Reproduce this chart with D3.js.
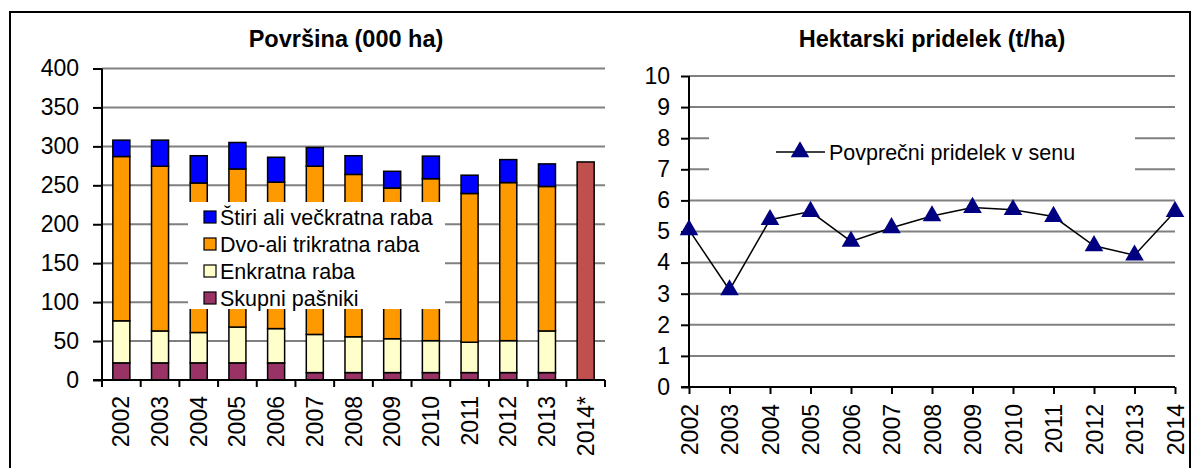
<!DOCTYPE html>
<html>
<meta charset="utf-8">
<style>
body{
	margin:0;
	background:#fff;
}
text{
	font-family:"Liberation Sans", Arial, sans-serif;
	fill:#000;
}
.title{
	font-size:23.5px;
	font-weight:bold;
	text-anchor:middle;
}
.tick text{
	font-size:23px;
}
.grid line{
	stroke:#808080;
	stroke-width:2px;
}
.legend text{
	font-size:21.5px;
}
</style>
<body>
<svg width="1197" height="468"></svg>
<script src="https://d3js.org/d3.v7.min.js"></script>
<script>

// ---- data ----
var years = ["2002","2003","2004","2005","2006","2007","2008","2009","2010","2011","2012","2013","2014*"];
var seriesNames = ["Skupni pašniki", "Enkratna raba", "Dvo-ali trikratna raba", "Štiri ali večkratna raba"];
var skupni   = [22, 22, 22, 22, 22, 9.5, 9.5, 9.5, 9.5, 9.5, 9.5, 9.5, 0];
var enkratna = [54, 41, 39, 46, 44, 49, 46, 43.5, 41, 39, 41, 53.5, 0];
var dvoali   = [211, 211.5, 192, 203, 188, 216, 208.5, 193.5, 208, 191, 203, 185.5, 0];
var stiri    = [21, 33.5, 35, 34, 32, 24, 24, 21.5, 29, 23.5, 29.5, 29, 0];
var ocena    = [0, 0, 0, 0, 0, 0, 0, 0, 0, 0, 0, 0, 280];
var areaTicks = [0, 50, 100, 150, 200, 250, 300, 350, 400];

var yieldYears = ["2002","2003","2004","2005","2006","2007","2008","2009","2010","2011","2012","2013","2014"];
var yieldValues = [5.05, 3.12, 5.38, 5.64, 4.68, 5.12, 5.5, 5.77, 5.7, 5.48, 4.54, 4.24, 5.64];
var yieldTicks = [0, 1, 2, 3, 4, 5, 6, 7, 8, 9, 10];

var colors = ["#993366", "#FFFFCC", "#FF9900", "#0000FF"];
var colorOcena = "#C0504D";

var svg = d3.select("svg");

// outer frame
svg.append("rect")
    .attr("x", 10).attr("y", 12)
    .attr("width", 1180).attr("height", 470)
    .attr("fill", "none")
    .attr("stroke", "#000")
    .attr("stroke-width", 2);

// ================= left chart =================
var x = d3.scaleBand()
    .domain(years)
    .range([102, 605])
    .paddingInner(0.56)
    .paddingOuter(0.28);

var y = d3.scaleLinear()
    .domain([0, 400])
    .range([380, 68.5]);

var left = svg.append("g");

left.append("g")
    .attr("class", "grid")
    .selectAll("line")
    .data(areaTicks.slice(1))
    .enter().append("line")
      .attr("x1", 102).attr("x2", 605)
      .attr("y1", function(d) { return y(d); })
      .attr("y2", function(d) { return y(d); });

var rows = years.map(function(yr, i) {
  return {year: yr, s0: skupni[i], s1: enkratna[i], s2: dvoali[i], s3: stiri[i]};
});
var stack = d3.stack().keys(["s0", "s1", "s2", "s3"]);

left.append("g")
    .selectAll("g")
    .data(stack(rows))
    .enter().append("g")
      .attr("fill", function(d, i) { return colors[i]; })
    .selectAll("rect")
    .data(function(d) { return d.filter(function(p) { return p[1] > p[0]; }); })
    .enter().append("rect")
      .attr("x", function(d) { return x(d.data.year); })
      .attr("width", x.bandwidth())
      .attr("y", function(d) { return y(d[1]); })
      .attr("height", function(d) { return y(d[0]) - y(d[1]); })
      .attr("stroke", "#000")
      .attr("stroke-width", 1.5);

left.append("g")
    .selectAll("rect")
    .data(years.filter(function(d, i) { return ocena[i] > 0; }))
    .enter().append("rect")
      .attr("x", function(d) { return x(d); })
      .attr("width", x.bandwidth())
      .attr("y", function(d) { return y(ocena[years.indexOf(d)]); })
      .attr("height", function(d) { return y(0) - y(ocena[years.indexOf(d)]); })
      .attr("fill", colorOcena)
      .attr("stroke", "#000")
      .attr("stroke-width", 1.5);

// legend (covers bars, like the original)
var lg = left.append("g").attr("class", "legend");
lg.append("rect")
    .attr("x", 188).attr("y", 202)
    .attr("width", 257).attr("height", 107)
    .attr("fill", "#fff");
var legendOrder = [3, 2, 1, 0];
legendOrder.forEach(function(si, k) {
  var cy = 217 + k * 27;
  lg.append("rect")
      .attr("x", 204).attr("y", cy - 6)
      .attr("width", 12).attr("height", 12)
      .attr("fill", colors[si])
      .attr("stroke", "#000")
      .attr("stroke-width", 1.2);
  lg.append("text")
      .attr("x", 220).attr("y", cy)
      .attr("dy", "0.35em")
      .text(seriesNames[si]);
});

// y axis
left.append("g")
    .attr("transform", "translate(102,0)")
    .call(d3.axisLeft(y).tickValues(areaTicks).tickSize(9).tickPadding(14))
    .call(function(g) {
      g.select(".domain").attr("stroke-width", 2).attr("d", "M0," + y(400) + "V" + y(0));
      g.selectAll(".tick line").attr("stroke-width", 2);
    });

// x axis (ticks between categories)
var step = x.step();
left.append("g")
    .selectAll("line")
    .data(d3.range(years.length + 1))
    .enter().append("line")
      .attr("x1", function(i) { return 102 + i * step; })
      .attr("x2", function(i) { return 102 + i * step; })
      .attr("y1", y(0)).attr("y2", y(0) + 7)
      .attr("stroke", "#000").attr("stroke-width", 2);
left.append("line")
    .attr("x1", 93).attr("x2", 605)
    .attr("y1", y(0)).attr("y2", y(0))
    .attr("stroke", "#000").attr("stroke-width", 2);
left.append("g")
    .attr("class", "tick")
    .selectAll("text")
    .data(years)
    .enter().append("text")
      .attr("transform", function(d) { return "translate(" + (x(d) + x.bandwidth() / 2) + ",396) rotate(-90)"; })
      .attr("text-anchor", "end")
      .attr("dy", "0.35em")
      .text(function(d) { return d; });

svg.append("text")
    .attr("class", "title")
    .attr("x", 346).attr("y", 47)
    .text("Površina (000 ha)");

// ================= right chart =================
var x2 = d3.scalePoint()
    .domain(yieldYears)
    .range([689, 1175]);

var y2 = d3.scaleLinear()
    .domain([0, 10])
    .range([387, 76]);

var right = svg.append("g");

right.append("g")
    .attr("class", "grid")
    .selectAll("line")
    .data(yieldTicks.slice(1))
    .enter().append("line")
      .attr("x1", 689).attr("x2", 1175)
      .attr("y1", function(d) { return y2(d); })
      .attr("y2", function(d) { return y2(d); });

// legend box hides part of the grid
var lg2 = right.append("g").attr("class", "legend");
lg2.append("rect")
    .attr("x", 709).attr("y", 118)
    .attr("width", 426).attr("height", 66)
    .attr("fill", "#fff");
lg2.append("line")
    .attr("x1", 776).attr("x2", 825)
    .attr("y1", 152).attr("y2", 152)
    .attr("stroke", "#000").attr("stroke-width", 1.5);
lg2.append("path")
    .attr("transform", "translate(800,152)")
    .attr("d", d3.symbol().type(d3.symbolTriangle).size(150))
    .attr("fill", "#000080");
lg2.append("text")
    .attr("x", 829).attr("y", 152)
    .attr("dy", "0.35em")
    .text("Povprečni pridelek v senu");

right.append("g")
    .attr("transform", "translate(689,0)")
    .call(d3.axisLeft(y2).tickValues(yieldTicks).tickSize(8).tickPadding(11))
    .call(function(g) {
      g.select(".domain").attr("stroke-width", 2).attr("d", "M0," + y2(10) + "V" + y2(0));
      g.selectAll(".tick line").attr("stroke-width", 2);
    });

right.append("g")
    .attr("transform", "translate(0," + y2(0) + ")")
    .call(d3.axisBottom(x2).tickSize(7).tickSizeOuter(0))
    .call(function(g) {
      g.select(".domain").attr("stroke-width", 2).attr("d", "M681,0H1175");
      g.selectAll(".tick line").attr("stroke-width", 2);
      g.selectAll(".tick text")
        .attr("transform", "rotate(-90)")
        .attr("text-anchor", "end")
        .attr("x", -17)
        .attr("y", 0)
        .attr("dy", "0.35em");
    });

right.append("path")
    .datum(yieldValues)
    .attr("fill", "none")
    .attr("stroke", "#000")
    .attr("stroke-width", 1.5)
    .attr("d", d3.line()
      .x(function(d, i) { return x2(yieldYears[i]); })
      .y(function(d) { return y2(d); }));

right.append("g")
    .selectAll("path")
    .data(yieldValues)
    .enter().append("path")
      .attr("transform", function(d, i) { return "translate(" + x2(yieldYears[i]) + "," + y2(d) + ")"; })
      .attr("d", d3.symbol().type(d3.symbolTriangle).size(150))
      .attr("fill", "#000080");

svg.append("text")
    .attr("class", "title")
    .attr("x", 932).attr("y", 47)
    .text("Hektarski pridelek (t/ha)");

</script>
</body>
</html>
